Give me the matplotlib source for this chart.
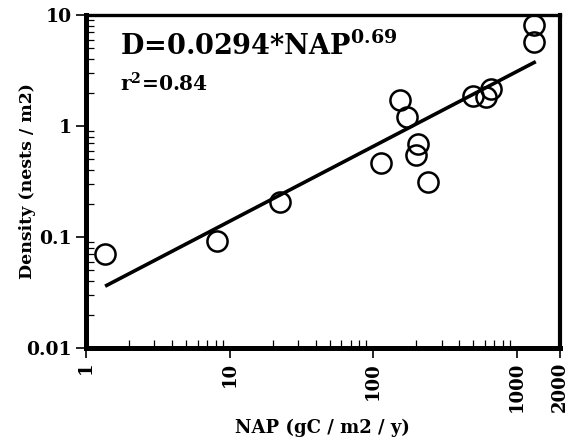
import matplotlib
matplotlib.use("Agg")
import matplotlib.pyplot as plt
from matplotlib.ticker import FixedLocator, NullFormatter

plt.rcParams['font.family'] = ['DejaVu Serif']
plt.rcParams['font.weight'] = 'bold'
plt.rcParams['mathtext.fontset'] = 'custom'
plt.rcParams['mathtext.rm'] = 'DejaVu Serif:bold'
plt.rcParams['mathtext.it'] = 'DejaVu Serif:bold'
plt.rcParams['mathtext.bf'] = 'DejaVu Serif:bold'

# data
nap = [1.36, 8.2, 22.6, 113, 153, 171, 204, 198, 240, 494, 608, 660, 1316, 1316]
density = [0.070, 0.092, 0.207, 0.464, 1.71, 1.20, 0.69, 0.55, 0.31, 1.86, 1.82, 2.15, 8.1, 5.7]
fit_x = [1.36, 1360]
fit_y = [0.036, 3.8]
xticks = [1, 10, 100, 1000, 2000]
xtick_labels = ['1', '10', '100', '1000', '2000']
yticks = [0.01, 0.1, 1, 10]
ytick_labels = ['0.01', '0.1', '1', '10']

fig = plt.figure(figsize=(5.73, 4.41), dpi=100)
ax = fig.add_axes([0.150, 0.211, 0.827, 0.755])
ax.set_xscale('log')
ax.set_yscale('log')
ax.set_xlim(1, 2000)
ax.set_ylim(0.01, 10)

ax.plot(fit_x, fit_y, color='black', lw=2.6, solid_capstyle='butt')
ax.plot(nap, density, 'o', ms=14.5, mfc='none', mec='black', mew=1.8)

ax.xaxis.set_major_locator(FixedLocator(xticks))
ax.set_xticklabels(xtick_labels, rotation=90, fontsize=13, fontweight='bold')
minor_x = [m * 10 ** d for d in range(0, 3) for m in range(2, 10)]
ax.xaxis.set_minor_locator(FixedLocator(minor_x))
ax.xaxis.set_minor_formatter(NullFormatter())

ax.yaxis.set_major_locator(FixedLocator(yticks))
ax.set_yticklabels(ytick_labels, fontsize=13.5, fontweight='bold')
minor_y = [m * 10 ** d for d in range(-2, 1) for m in range(2, 10)]
ax.yaxis.set_minor_locator(FixedLocator(minor_y))
ax.yaxis.set_minor_formatter(NullFormatter())

ax.tick_params(which='major', direction='out', length=7, width=1.2, pad=3)
ax.tick_params(which='minor', direction='in', length=6, width=0.9)
ax.tick_params(top=False, right=False, which='both')

for side, w in [('left', 3.6), ('bottom', 3.6), ('right', 3.0), ('top', 2.4)]:
    ax.spines[side].set_linewidth(w)

ax.set_xlabel('NAP (gC / m2 / y)', fontsize=13, fontweight='bold')
ax.set_ylabel('Density (nests / m2)', fontsize=12.5, fontweight='bold')
ax.xaxis.set_label_coords(0.5, -0.213)
ax.yaxis.set_label_coords(-0.105, 0.5)

ax.text(0.072, 0.88, r'D=0.0294*NAP$^{0.69}$', transform=ax.transAxes,
        fontsize=19.5, fontweight='bold', va='baseline')
ax.text(0.072, 0.769, r'r$^{2}$=0.84', transform=ax.transAxes,
        fontsize=14.5, fontweight='bold', va='baseline')

fig.savefig('out.png', dpi=100)
